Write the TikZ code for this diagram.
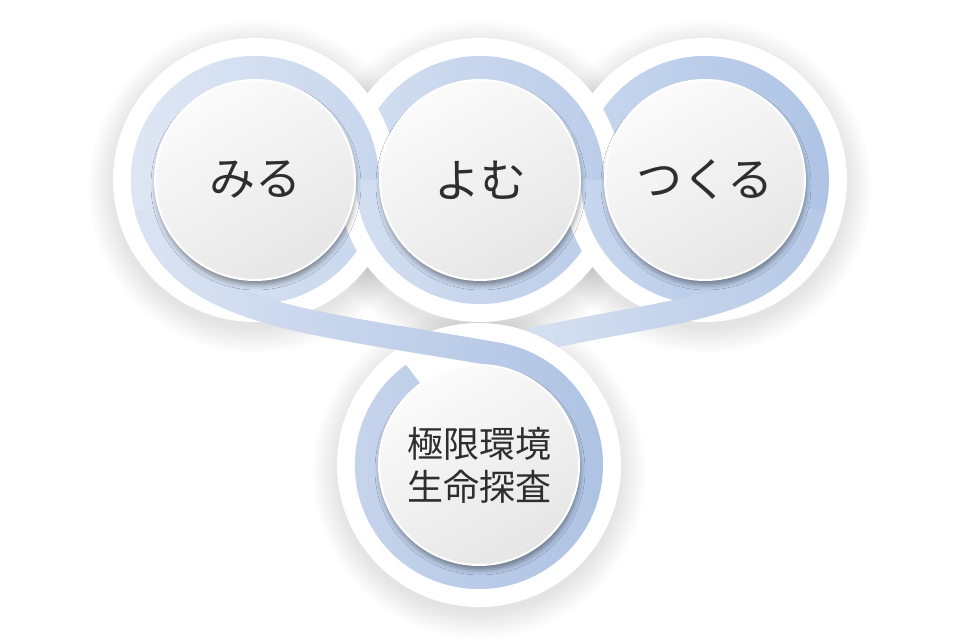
\documentclass[tikz,border=0pt]{standalone}
\usepackage{fontspec}
\newfontfamily\jpfont{Noto Sans CJK JP}
\usetikzlibrary{calc,fadings,shadows.blur}

\definecolor{ink}{HTML}{2E2E2E}
\definecolor{faceA}{HTML}{FBFBFB}
\definecolor{faceB}{HTML}{E6E6E6}
\definecolor{ringLa}{HTML}{DFE7F4}
\definecolor{ringLb}{HTML}{C8D7EE}
\definecolor{ringMa}{HTML}{D3DFF1}
\definecolor{ringMb}{HTML}{BCCDEA}
\definecolor{ringRa}{HTML}{C8D7EF}
\definecolor{ringRb}{HTML}{AFC4E5}
\definecolor{bandLa}{HTML}{DBE4F3}
\definecolor{bandLb}{HTML}{ADC2E3}
\definecolor{bandRa}{HTML}{DAE3F2}
\definecolor{bandRb}{HTML}{B6C9E7}

\tikzfading[name=fade right, left color=transparent!0, right color=transparent!100]

\tikzset{
  drop/.style={fill=black, opacity=0.011},
  disk/.style={fill=white},
  ring/.style={line width=24pt, draw=#1},
  ring glow/.style={line width=24pt, draw=#1, path fading=fade right},
  face/.style={circle, minimum size=200pt, inner sep=0pt, draw=white, line width=2pt,
      top color=faceA, bottom color=faceB, shading angle=30,
      blur shadow={shadow xshift=1pt, shadow yshift=-5pt, shadow blur radius=5pt, shadow opacity=40},
      text=ink, font=\jpfont\fontsize{46}{54}\selectfont},
}

\begin{document}
\begin{tikzpicture}[x=1pt,y=1pt]
\fill[white] (0,0) rectangle (960,641);
\useasboundingbox (0,0) rectangle (960,641);
\coordinate (L) at (255,461);
\coordinate (M) at (480,461);
\coordinate (R) at (705,461);
\coordinate (B) at (479,176);

% soft shadows under the white disks
\foreach \c in {L,M,R,B}
  \foreach \r in {142,145,...,166}
    \fill[drop] ($(\c)+(0,-7)$) circle (\r);

% top row, left to right
\fill[disk] (L) circle (142);
\draw[ring=ringLb] (L) circle (112);
\draw[ring glow=ringLa] (L) circle (112);
\fill[disk] (M) circle (142);
\draw[ring=ringMb] (M) circle (112);
\draw[ring glow=ringMa] (M) circle (112);
\fill[disk] (R) circle (142);
\draw[ring=ringRb] (R) circle (112);
\draw[ring glow=ringRa] (R) circle (112);

% upper crossings go the other way
\begin{scope}
\clip (M) circle (143);
\clip (0,461) rectangle (960,641);
\fill[disk] (L) circle (142);
\draw[ring=ringLb] (L) circle (112);
\draw[ring glow=ringLa] (L) circle (112);
\end{scope}
\begin{scope}
\clip (R) circle (143);
\clip (0,461) rectangle (960,641);
\fill[disk] (M) circle (142);
\draw[ring=ringMb] (M) circle (112);
\draw[ring glow=ringMa] (M) circle (112);
\end{scope}

% band into the right ring, passes under the bottom disk
\draw[ring=bandRb] (500,294) .. controls +(13:200) and +(-105:110) .. ($(R)+(-15:112)$);
\draw[ring glow=bandRa] (500,294) .. controls +(13:200) and +(-105:110) .. ($(R)+(-15:112)$);

% bottom disk, its ring and the band up to the left ring
\fill[disk] (B) circle (142);
\draw[ring=bandLb] ($(B)+(126:112)$) arc[start angle=126, end angle=440, radius=112]
  .. controls +(170:200) and +(-75:110) .. ($(L)+(195:112)$);
\draw[ring glow=bandLa] ($(B)+(126:112)$) arc[start angle=126, end angle=440, radius=112]
  .. controls +(170:200) and +(-75:110) .. ($(L)+(195:112)$);

\node[face] (miru) at (L) {みる};
\node[face] (yomu) at (M) {よむ};
\node[face] (tsukuru) at (R) {つくる};
\node[face, align=center, font=\jpfont\fontsize{36}{43}\selectfont] (tansa) at (B) {極限環境\\生命探査};

\end{tikzpicture}
\end{document}
